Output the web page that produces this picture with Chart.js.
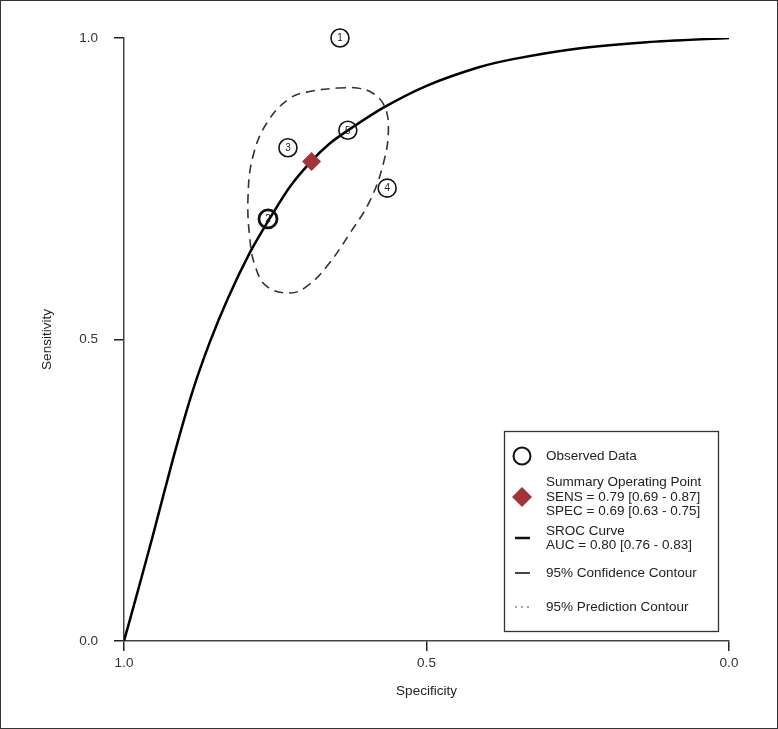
<!DOCTYPE html>
<html>
<head>
<meta charset="utf-8">
<script src="https://cdn.jsdelivr.net/npm/chart.js@4.4.0/dist/chart.umd.min.js"></script>
<style>
  body { margin: 0; background: #fff; }
</style>
</head>
<body>
<canvas id="canvas1" width="778" height="729"></canvas>
<script>
// observed studies
const studyIds  = ['1', '2', '3', '4', '5'];
const studySpec = [0.643, 0.762, 0.729, 0.565, 0.630];
const studySens = [1.000, 0.700, 0.818, 0.751, 0.847];

// summary operating point
const summarySpec = [0.690];
const summarySens = [0.795];

// SROC curve
const srocSpec = [1.000, 0.979, 0.952, 0.919, 0.888, 0.858, 0.828, 0.792, 0.762, 0.726, 0.691, 0.660, 0.628, 0.572, 0.499, 0.415, 0.357, 0.246, 0.136, 0.000];
const srocSens = [0.000, 0.076, 0.176, 0.302, 0.410, 0.496, 0.569, 0.644, 0.696, 0.753, 0.795, 0.825, 0.848, 0.884, 0.921, 0.951, 0.965, 0.983, 0.993, 1.000];

// 95% confidence contour
const confSpec = [0.648, 0.615, 0.588, 0.569, 0.563, 0.571, 0.593, 0.626, 0.665, 0.698, 0.726, 0.764, 0.783, 0.792, 0.795, 0.787, 0.764, 0.726, 0.689, 0.648];
const confSens = [0.917, 0.917, 0.908, 0.886, 0.847, 0.793, 0.731, 0.677, 0.621, 0.588, 0.577, 0.588, 0.621, 0.667, 0.737, 0.803, 0.859, 0.900, 0.912, 0.917];

const xTicks = [1.0, 0.5, 0.0];
const yTicks = [0.0, 0.5, 1.0];

const legendText = [
  ['Observed Data'],
  ['Summary Operating Point', 'SENS = 0.79 [0.69 - 0.87]', 'SPEC = 0.69 [0.63 - 0.75]'],
  ['SROC Curve', 'AUC = 0.80 [0.76 - 0.83]'],
  ['95% Confidence Contour'],
  ['95% Prediction Contour']
];

const FONT = '"Liberation Sans", Arial, sans-serif';
const pts = (xs, ys) => xs.map((x, i) => ({ x: x, y: ys[i] }));

// numbers inside the study circles
const studyLabels = {
  id: 'studyLabels',
  afterDatasetsDraw(chart) {
    const ctx = chart.ctx;
    const meta = chart.getDatasetMeta(1);
    ctx.save();
    ctx.fillStyle = '#222';
    ctx.font = '10px ' + FONT;
    ctx.textAlign = 'center';
    ctx.textBaseline = 'middle';
    meta.data.forEach((el, i) => ctx.fillText(studyIds[i], el.x, el.y + 0.5));
    ctx.restore();
  }
};

// legend box + outer frame
const sideLegend = {
  id: 'sideLegend',
  afterDraw(chart) {
    const ctx = chart.ctx;
    ctx.save();
    ctx.strokeStyle = '#333';
    ctx.lineWidth = 1;
    ctx.strokeRect(0.5, 0.5, 777, 728);
    ctx.lineWidth = 1.3;
    ctx.strokeRect(504.5, 431.5, 214, 200);

    // symbols
    ctx.strokeStyle = '#111';
    ctx.lineWidth = 2;
    ctx.beginPath(); ctx.arc(522, 456, 8.5, 0, Math.PI * 2); ctx.stroke();

    ctx.fillStyle = '#a2343a';
    ctx.beginPath();
    ctx.moveTo(522, 487); ctx.lineTo(532, 497); ctx.lineTo(522, 507); ctx.lineTo(512, 497);
    ctx.closePath(); ctx.fill();

    ctx.lineWidth = 2.5;
    ctx.beginPath(); ctx.moveTo(515, 538); ctx.lineTo(530, 538); ctx.stroke();
    ctx.strokeStyle = '#444';
    ctx.lineWidth = 2;
    ctx.beginPath(); ctx.moveTo(515, 573); ctx.lineTo(530, 573); ctx.stroke();

    ctx.fillStyle = '#777';
    [516, 522, 528].forEach(x => { ctx.beginPath(); ctx.arc(x, 607, 0.9, 0, Math.PI * 2); ctx.fill(); });

    // text
    ctx.fillStyle = '#222';
    ctx.font = '13.5px ' + FONT;
    ctx.textAlign = 'left';
    ctx.textBaseline = 'middle';
    const rows = [[456], [482, 497, 511], [531, 545], [573], [607]];
    legendText.forEach((lines, i) => lines.forEach((t, j) => ctx.fillText(t, 546, rows[i][j])));
    ctx.restore();
  }
};

const canvas1 = document.getElementById('canvas1');
new Chart(canvas1, {
  type: 'scatter',
  data: {
    datasets: [
      {
        label: 'Summary Operating Point',
        data: pts(summarySpec, summarySens),
        pointStyle: 'rectRot',
        pointRadius: 9.5,
        backgroundColor: '#a2343a',
        borderColor: '#a2343a',
        borderWidth: 0,
        order: 0
      },
      {
        label: 'Observed Data',
        data: pts(studySpec, studySens),
        pointStyle: 'circle',
        pointRadius: 9,
        backgroundColor: 'rgba(0,0,0,0)',
        borderColor: '#111',
        borderWidth: [1.6, 2.8, 1.6, 1.6, 1.6],
        clip: false,
        order: 1
      },
      {
        label: 'SROC Curve',
        data: pts(srocSpec, srocSens),
        showLine: true,
        pointRadius: 0,
        borderColor: '#000',
        borderWidth: 2.5,
        tension: 0.25,
        order: 2
      },
      {
        label: '95% Confidence Contour',
        data: pts(confSpec, confSens),
        showLine: true,
        pointRadius: 0,
        borderColor: '#333',
        borderWidth: 1.6,
        borderDash: [9, 6],
        tension: 0.4,
        order: 3
      }
    ]
  },
  options: {
    responsive: false,
    animation: false,
    layout: { padding: { left: 39, right: 49, top: 38, bottom: 26 } },
    plugins: { legend: { display: false }, tooltip: { enabled: false } },
    scales: {
      x: {
        type: 'linear',
        reverse: true,
        min: 0, max: 1,
        afterBuildTicks: s => { s.ticks = xTicks.map(v => ({ value: v })); },
        afterFit: s => { s.height = 62; },
        ticks: { color: '#333', padding: 4, font: { size: 13.5, family: FONT }, callback: v => v.toFixed(1) },
        grid: { drawOnChartArea: false, drawTicks: true, tickLength: 10, color: '#222', lineWidth: 1.5 },
        border: { display: true, color: '#444', width: 1.5 },
        title: { display: true, text: 'Specificity', color: '#222', font: { size: 13.5, family: FONT }, padding: { top: 0, bottom: 4 } }
      },
      y: {
        type: 'linear',
        min: 0, max: 1,
        afterBuildTicks: s => { s.ticks = yTicks.map(v => ({ value: v })); },
        afterFit: s => { s.width = 85; },
        ticks: { color: '#333', padding: 16, font: { size: 13.5, family: FONT }, callback: v => v.toFixed(1) },
        grid: { drawOnChartArea: false, drawTicks: true, tickLength: 10, color: '#222', lineWidth: 1.5 },
        border: { display: true, color: '#444', width: 1.5 },
        title: { display: true, text: 'Sensitivity', color: '#222', font: { size: 13.5, family: FONT }, padding: { top: 0, bottom: 0 } }
      }
    }
  },
  plugins: [studyLabels, sideLegend]
});
</script>
</body>
</html>
